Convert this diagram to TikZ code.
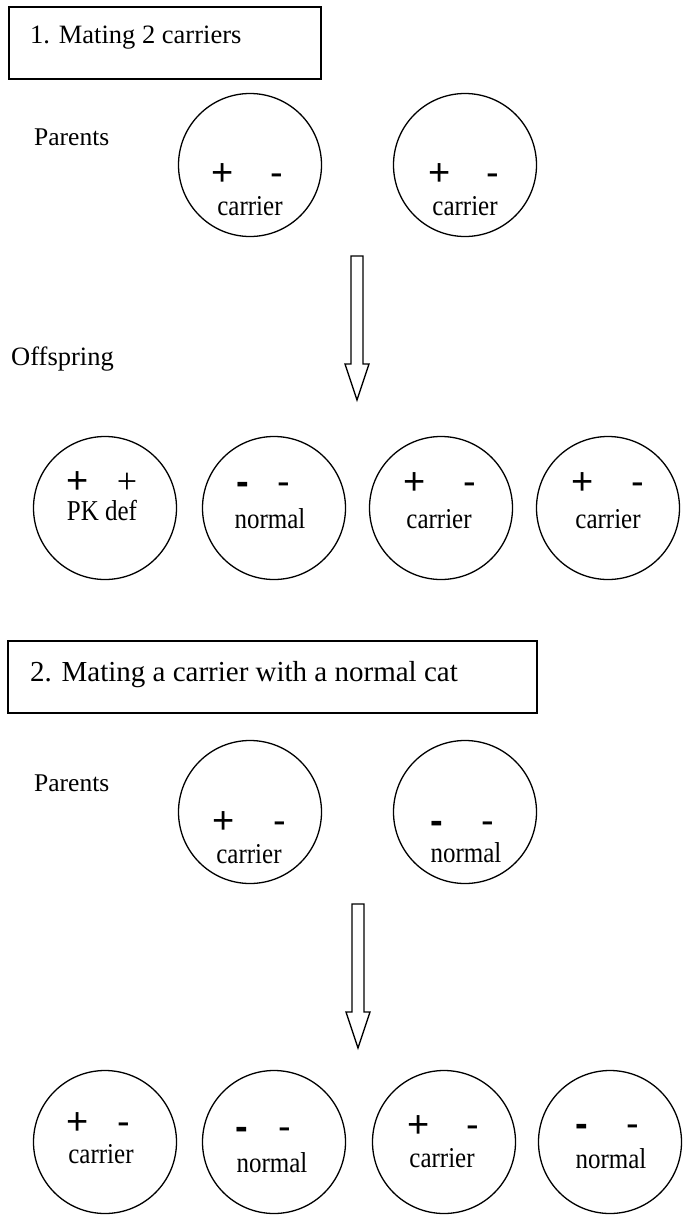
\documentclass[tikz,border=0pt]{standalone}
\usepackage{graphicx}
\usepackage{fontspec}
\setmainfont{Liberation Serif}
\newfontfamily\sgnfont{Liberation Sans}
\newcommand{\stretchlbl}[1]{\scalebox{1}[1.15]{#1}}
\begin{document}
\begin{tikzpicture}[x=1pt,y=-1pt,
  circ/.style={draw, circle, minimum size=143pt, inner sep=0pt, line width=1.3pt},
  sg/.style={font=\sgnfont\fontsize{38}{40}\selectfont, inner sep=0pt, anchor=base},
  sgb/.style={font=\sgnfont\bfseries\fontsize{38}{40}\selectfont, inner sep=0pt, anchor=base},
  sgs/.style={font=\fontsize{36}{40}\selectfont, inner sep=0pt, anchor=base},
  lb/.style={font=\fontsize{25}{28}\selectfont, inner sep=0pt, anchor=base},
  hd/.style={font=\fontsize{26.5}{30}\selectfont, inner sep=0pt, anchor=base west},
  hbox/.style={draw, line width=2pt, inner sep=0pt},
  blk/.style={draw, line width=1.3pt, line join=miter}]
\useasboundingbox (0,0) rectangle (683,1215);

% ---------- Section 1 ----------
\node[hbox, minimum width=312pt, minimum height=72pt] (box1) at (165,43) {};
\node[hd] (h1) at (30,44) {1. Mating 2 carriers};
\node[hd, font=\fontsize{25.5}{30}\selectfont] (par1) at (34,145) {Parents};

\node[circ] (p1a) at (250,165) {};
\node[circ] (p1b) at (465,165) {};
\node[sg] (p1a1) at (223,185) {+};
\node[sg] (p1a2) at (277,185) {-};
\node[lb] (p1al) at (250,215) {\stretchlbl{carrier}};
\node[sg] (p1b1) at (440,185) {+};
\node[sg] (p1b2) at (493,185) {-};
\node[lb] (p1bl) at (465,215) {\stretchlbl{carrier}};

\draw[blk] (351,256) -- (363,256) -- (363,364) -- (369,364) -- (357,400) -- (345,364) -- (351,364) -- cycle;

\node[hd] (off1) at (11,365) {Offspring};

\node[circ] (o1a) at (105,508) {};
\node[circ] (o1b) at (274,508) {};
\node[circ] (o1c) at (441,508) {};
\node[circ] (o1d) at (608,508) {};

\node[sg] (o1a1) at (78,493) {+};
\node[sgs] (o1a2) at (127,493) {+};
\node[lb] (o1al) at (102,520) {\stretchlbl{PK def}};

\node[sgb] (o1b1) at (243,494) {-};
\node[sg] (o1b2) at (284,494) {-};
\node[lb] (o1bl) at (270,528) {\stretchlbl{normal}};

\node[sg] (o1c1) at (415,494) {+};
\node[sg] (o1c2) at (470,494) {-};
\node[lb] (o1cl) at (439,528) {\stretchlbl{carrier}};

\node[sg] (o1d1) at (583,494) {+};
\node[sg] (o1d2) at (638,494) {-};
\node[lb] (o1dl) at (608,528) {\stretchlbl{carrier}};

% ---------- Section 2 ----------
\node[hbox, minimum width=529pt, minimum height=72pt] (box2) at (272.5,677) {};
\node[hd, font=\fontsize{29}{32}\selectfont] (h2) at (30,681) {2. Mating a carrier with a normal cat};
\node[hd, font=\fontsize{25.5}{30}\selectfont] (par2) at (34,791) {Parents};

\node[circ] (p2a) at (250,812) {};
\node[circ] (p2b) at (465,812) {};
\node[sg] (p2a1) at (224,833) {+};
\node[sg] (p2a2) at (280,833) {-};
\node[lb] (p2al) at (249,863) {\stretchlbl{carrier}};
\node[sgb] (p2b1) at (437,833) {-};
\node[sg] (p2b2) at (488,833) {-};
\node[lb] (p2bl) at (466,862) {\stretchlbl{normal}};

\draw[blk] (352,904) -- (364,904) -- (364,1012) -- (370,1012) -- (358,1048) -- (346,1012) -- (352,1012) -- cycle;

\node[circ] (o2a) at (105,1142) {};
\node[circ] (o2b) at (274,1142) {};
\node[circ] (o2c) at (444,1142) {};
\node[circ] (o2d) at (610,1142) {};

\node[sg] (o2a1) at (78,1134) {+};
\node[sg] (o2a2) at (124,1134) {-};
\node[lb] (o2al) at (101,1163) {\stretchlbl{carrier}};

\node[sgb] (o2b1) at (242,1139) {-};
\node[sg] (o2b2) at (285,1139) {-};
\node[lb] (o2bl) at (272,1172) {\stretchlbl{normal}};

\node[sg] (o2c1) at (419,1137) {+};
\node[sg] (o2c2) at (473,1137) {-};
\node[lb] (o2cl) at (442,1167) {\stretchlbl{carrier}};

\node[sgb] (o2d1) at (582,1136) {-};
\node[sg] (o2d2) at (633,1136) {-};
\node[lb] (o2dl) at (611,1168) {\stretchlbl{normal}};
\end{tikzpicture}
\end{document}
